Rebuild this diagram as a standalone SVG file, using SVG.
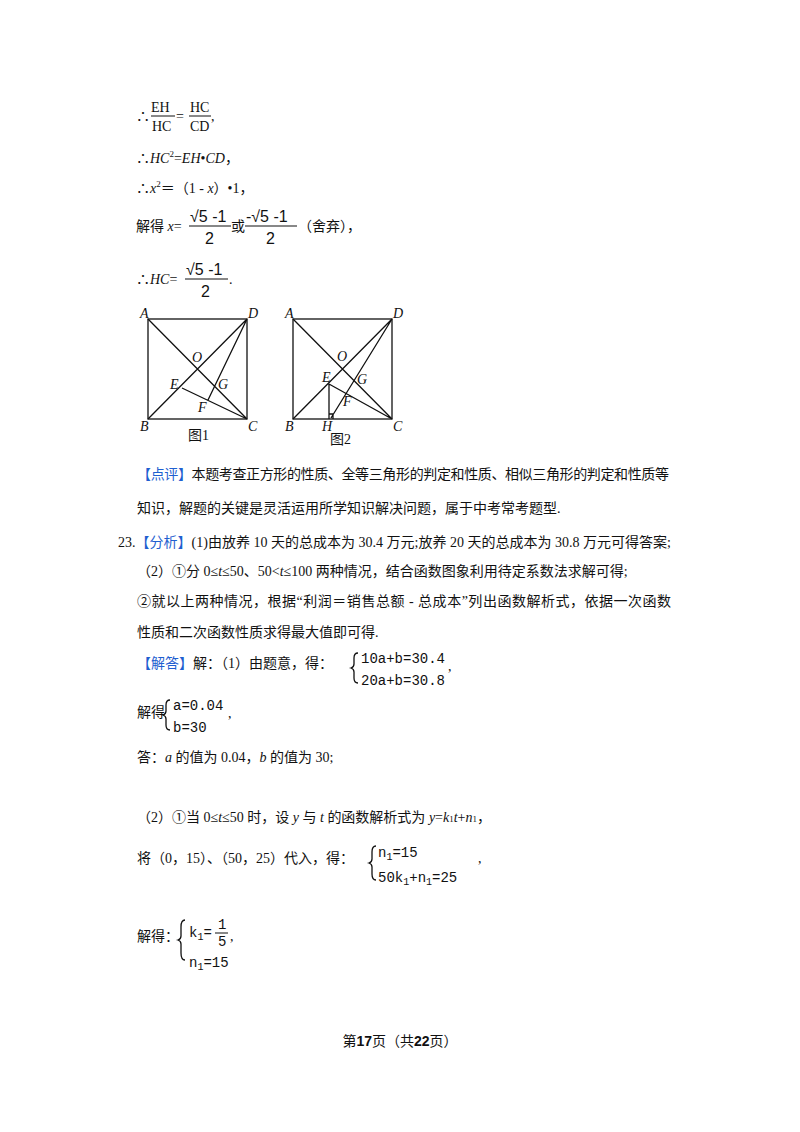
<svg xmlns="http://www.w3.org/2000/svg" width="800" height="1132" viewBox="0 0 800 1132">
<style>
text{font-family:"Liberation Serif","Noto Sans CJK SC",serif;font-size:14px;fill:#111}
.i{font-style:italic}
.m{font-family:"Liberation Mono","Noto Sans CJK SC",monospace;font-size:14px}
.b{fill:#1f5fd0}
.l{stroke:#111;stroke-width:1.3;fill:none}
.fl{stroke:#111;stroke-width:1}
.sm{font-size:14px}
.fr{font-family:"Liberation Sans",sans-serif;font-size:16px}
</style>
<rect width="800" height="1132" fill="#fff"/>
<g id="formulas">
<text x="136" y="121">∴</text>
<text x="151" y="112" class="sm">EH</text><line class="fl" x1="151" y1="116" x2="175" y2="116"/><text x="152" y="131" class="sm">HC</text>
<text x="176" y="121">=</text>
<text x="190" y="112" class="sm">HC</text><line class="fl" x1="189" y1="116" x2="211" y2="116"/><text x="190" y="131" class="sm">CD</text>
<text x="211" y="121">,</text>
<text x="136" y="163">∴<tspan class="i">HC</tspan><tspan font-size="9" dy="-6">2</tspan><tspan dy="6">=</tspan><tspan class="i">EH</tspan>•<tspan class="i">CD</tspan>，</text>
<text x="136" y="193">∴<tspan class="i">x</tspan><tspan font-size="9" dy="-6">2</tspan><tspan dy="6">＝（1 - </tspan><tspan class="i">x</tspan>）•1，</text>
<text x="136" y="231">解得 <tspan class="i">x</tspan>=</text>
<text class="fr" x="190" y="222">√5 -1</text><line class="fl" x1="189" y1="226" x2="231" y2="226"/><text class="fr" x="205" y="244">2</text>
<text x="231" y="231">或</text>
<text class="fr" x="246" y="222">-√5 -1</text><line class="fl" x1="245" y1="226" x2="297" y2="226"/><text class="fr" x="266" y="244">2</text>
<text x="298" y="231">（舍弃），</text>
<text x="136" y="284">∴<tspan class="i">HC</tspan>=</text>
<text class="fr" x="186" y="275">√5 -1</text><line class="fl" x1="185" y1="279" x2="228" y2="279"/><text class="fr" x="201" y="297">2</text>
<text x="229" y="284">.</text>
</g>
<g id="fig1">
<rect class="l" x="148" y="319" width="99" height="100"/>
<path class="l" d="M148 319L247 419M148 419L247 319M247 319L208 400M182 388L247 419"/>
<g class="i" font-size="12">
<text x="140" y="318">A</text><text x="248" y="318">D</text><text x="140" y="431">B</text><text x="248" y="431">C</text>
<text x="192" y="362">O</text><text x="170" y="389">E</text><text x="218" y="389">G</text><text x="198" y="412">F</text>
</g>
<text x="188" y="440">图1</text>
</g>
<g id="fig2">
<rect class="l" x="293" y="319" width="99" height="100"/>
<path class="l" d="M293 319L392 419M293 419L392 319M392 319L331 418M329 384L392 419M329 384L329 419M329 414h4v5"/>
<g class="i" font-size="12">
<text x="285" y="318">A</text><text x="393" y="318">D</text><text x="285" y="431">B</text><text x="393" y="431">C</text>
<text x="337" y="361">O</text><text x="322" y="382">E</text><text x="357" y="384">G</text><text x="343" y="406">F</text><text x="322" y="431">H</text>
</g>
<text x="330" y="444">图2</text>
</g>
<g id="text">
<text x="137" y="479" textLength="532"><tspan class="b">【点评】</tspan>本题考查正方形的性质、全等三角形的判定和性质、相似三角形的判定和性质等</text>
<text x="137" y="513">知识，解题的关键是灵活运用所学知识解决问题，属于中考常考题型.</text>
<text x="118" y="547" textLength="553">23.<tspan class="b">【分析】</tspan>(1)由放养 10 天的总成本为 30.4 万元;放养 20 天的总成本为 30.8 万元可得答案;</text>
<text x="137" y="576">（2）①分 0≤<tspan class="i">t</tspan>≤50、50&lt;<tspan class="i">t</tspan>≤100 两种情况，结合函数图象利用待定系数法求解可得;</text>
<text x="137" y="606" textLength="534">②就以上两种情况，根据“利润＝销售总额 - 总成本”列出函数解析式，依据一次函数</text>
<text x="137" y="637">性质和二次函数性质求得最大值即可得.</text>
<text x="137" y="668"><tspan class="b">【解答】</tspan>解：（1）由题意，得：</text>
<path class="l" stroke-width="1" d="M358 653q-4 0-4 5v6q0 3-3 4q3 1 3 4v6q0 5 4 5"/>
<text class="m" x="361" y="663">10a+b=30.4</text><text x="448" y="671">,</text>
<text class="m" x="361" y="685">20a+b=30.8</text>
<text x="137" y="717">解得</text>
<path class="l" stroke-width="1" d="M170 700q-4 0-4 5v6q0 3-3 4q3 1 3 4v6q0 5 4 5"/>
<text class="m" x="173" y="710">a=0.04</text><text x="228" y="718">,</text>
<text class="m" x="173" y="732">b=30</text>
<text x="137" y="762">答：<tspan class="i">a</tspan> 的值为 0.04，<tspan class="i">b</tspan> 的值为 30;</text>
<text x="137" y="822">（2）①当 0≤<tspan class="i">t</tspan>≤50 时，设 <tspan class="i">y</tspan> 与 <tspan class="i">t</tspan> 的函数解析式为 <tspan class="i">y</tspan>=<tspan class="i">k</tspan><tspan font-size="9">1</tspan><tspan class="i">t</tspan>+<tspan class="i">n</tspan><tspan font-size="9">1</tspan>，</text>
<text x="137" y="863">将（0，15）、（50，25）代入，得：</text>
<path class="l" stroke-width="1" d="M376 846q-4 0-4 6v7q0 3-3 4q3 1 3 4v7q0 6 4 6"/>
<text class="m" x="378" y="857">n<tspan font-size="10" dy="3">1</tspan><tspan dy="-3">=15</tspan></text><text x="478" y="863">,</text>
<text class="m" x="378" y="882">50k<tspan font-size="10" dy="3">1</tspan><tspan dy="-3">+n</tspan><tspan font-size="10" dy="3">1</tspan><tspan dy="-3">=25</tspan></text>
<text x="137" y="941">解得：</text>
<path class="l" stroke-width="1" d="M185 920q-4 0-4 7v9q0 3-3 4q3 1 3 4v9q0 7 4 7"/>
<text class="m" x="189" y="937">k<tspan font-size="10" dy="3">1</tspan><tspan dy="-3">=</tspan></text>
<text class="m" x="218" y="929" font-size="12">1</text><line class="fl" x1="215" y1="933" x2="228" y2="933"/><text class="m" x="218" y="946" font-size="12">5</text>
<text x="230" y="941">,</text>
<text class="m" x="189" y="967">n<tspan font-size="10" dy="3">1</tspan><tspan dy="-3">=15</tspan></text>
<text x="400" y="1046" text-anchor="middle" font-size="13">第<tspan font-weight="bold" font-family="Liberation Sans,sans-serif">17</tspan>页（共<tspan font-weight="bold" font-family="Liberation Sans,sans-serif">22</tspan>页）</text>
</g>
</svg>
